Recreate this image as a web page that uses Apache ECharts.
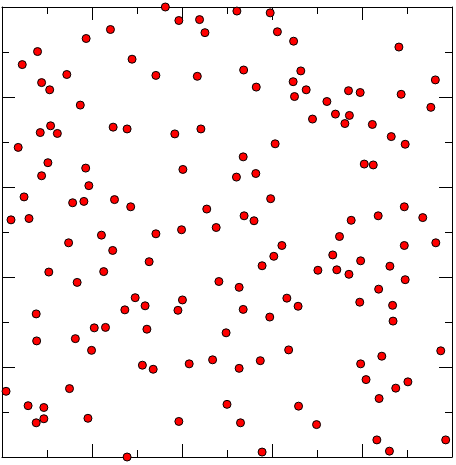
<!DOCTYPE html>
<html>
<head>
<meta charset="utf-8">
<script src="https://cdn.jsdelivr.net/npm/echarts@6/dist/echarts.min.js"></script>
<style>
  html, body { margin: 0; padding: 0; background: #fff; }
  #chart { width: 456px; height: 465px; }
</style>
</head>
<body>
<div id="chart"></div>
<script>
// point positions (axis units 0..10)
var xs = [
  0.45, 0.79, 0.88, 1.06, 1.44, 1.87, 2.41, 2.89, 3.42, 1.74,
  0.36, 0.85, 1.08, 1.23, 2.47, 2.78, 1.02, 3.63, 3.93, 4.39,
  4.51, 5.22, 5.96, 6.12, 6.48, 4.34, 5.37, 5.65, 6.64, 6.47,
  6.76, 6.50, 3.84, 4.42, 6.07, 5.36, 8.82, 9.63, 7.70, 7.96,
  8.87, 7.22, 9.53, 6.90, 7.41, 7.72, 7.62, 8.23, 8.65, 8.96,
  1.86, 0.88, 1.93, 0.49, 1.57, 1.82, 2.50, 2.86, 0.20, 0.60,
  2.21, 3.42, 1.48, 2.46, 3.27, 1.04, 2.26, 1.67, 2.96, 3.18,
  2.73, 4.02, 5.21, 5.64, 5.97, 4.55, 5.38, 5.60, 3.99, 4.76,
  6.22, 6.04, 5.78, 4.82, 5.27, 4.01, 3.91, 6.33, 6.58, 5.36,
  8.05, 8.25, 8.94, 8.36, 9.35, 7.76, 7.50, 8.94, 9.64, 7.35,
  7.97, 8.62, 7.02, 7.44, 7.71, 8.96, 8.37, 7.95, 8.68, 8.69,
  9.75, 8.44, 7.97, 8.09, 8.75, 9.02, 8.38, 6.59, 6.99, 8.33,
  9.86, 8.61, 0.76, 2.05, 2.30, 3.22, 0.77, 1.63, 1.99, 3.12,
  3.36, 0.09, 1.50, 0.58, 0.93, 0.76, 0.93, 1.91, 2.78, 5.95,
  4.98, 6.37, 4.16, 4.68, 5.27, 5.74, 5.00, 3.93, 5.30, 5.78
];
var ys = [
  8.72, 9.01, 8.32, 8.16, 8.50, 9.30, 9.50, 8.84, 8.48, 7.82,
  6.88, 7.21, 7.36, 7.19, 7.33, 7.29, 6.54, 10.0, 9.70, 9.72,
  9.43, 9.91, 9.87, 9.45, 9.24, 8.46, 8.60, 8.22, 8.58, 8.34,
  8.16, 8.01, 7.18, 7.29, 6.96, 6.67, 9.11, 8.38, 8.14, 8.10,
  8.06, 7.90, 7.77, 7.51, 7.62, 7.59, 7.41, 7.39, 7.12, 6.95,
  6.42, 6.25, 6.03, 5.78, 5.65, 5.68, 5.72, 5.56, 5.27, 5.30,
  4.93, 4.96, 4.76, 4.59, 4.34, 4.11, 4.12, 3.88, 3.54, 3.36,
  3.27, 6.39, 6.22, 6.30, 5.74, 5.51, 5.36, 5.25, 5.05, 5.10,
  4.70, 4.46, 4.25, 3.90, 3.77, 3.49, 3.26, 3.53, 3.35, 3.28,
  6.51, 6.49, 5.56, 5.36, 5.32, 5.26, 4.90, 4.70, 4.76, 4.49,
  4.36, 4.24, 4.15, 4.16, 4.06, 3.94, 3.73, 3.44, 3.37, 3.02,
  2.36, 2.24, 2.07, 1.72, 1.53, 1.67, 1.30, 1.13, 0.72, 0.38,
  0.38, 0.13, 3.18, 2.87, 2.88, 2.84, 2.58, 2.63, 2.37, 2.04,
  1.95, 1.46, 1.52, 1.14, 1.10, 0.76, 0.85, 0.86, 0.00, 3.11,
  2.76, 2.38, 2.07, 2.16, 1.97, 2.14, 1.17, 0.79, 0.76, 0.11
];

var points = [];
for (var i = 0; i < xs.length; i++) {
  points.push([xs[i], ys[i]]);
}

function boxAxis(pos, withData) {
  return {
    type: 'value',
    position: pos,
    min: 0,
    max: 10,
    interval: 2,
    axisLine: { show: true, onZero: false, lineStyle: { color: '#000', width: 1 } },
    axisTick: { show: true, inside: true, length: 13, lineStyle: { color: '#000', width: 1 } },
    minorTick: { show: true, splitNumber: 2, length: 7, lineStyle: { color: '#000', width: 1 } },
    axisLabel: { show: false },
    splitLine: { show: false }
  };
}

var myChart = echarts.init(document.getElementById('chart'));
myChart.setOption({
  backgroundColor: '#fff',
  animation: false,
  grid: { left: 2, right: 4, top: 7, bottom: 8 },
  xAxis: [boxAxis('bottom'), boxAxis('top')],
  yAxis: [boxAxis('left'), boxAxis('right')],
  series: [
    {
      type: 'scatter',
      xAxisIndex: 0,
      yAxisIndex: 0,
      clip: false,
      symbol: 'circle',
      symbolSize: 8,
      itemStyle: { color: '#ff0000', borderColor: '#000', borderWidth: 1, opacity: 1 },
      data: points
    }
  ]
});
</script>
</body>
</html>
